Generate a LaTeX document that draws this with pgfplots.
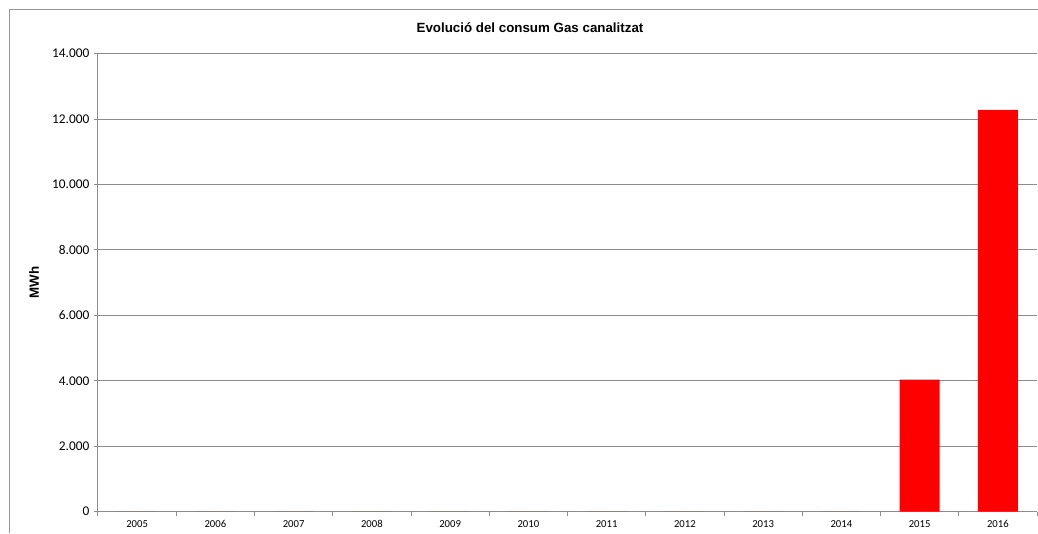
\documentclass[border=0pt]{standalone}
\usepackage{pgfplots}
\pgfplotsset{compat=1.18}
\usepackage{fontspec}
\setmainfont{Carlito}
\newfontfamily\arialfont{Liberation Sans}
\definecolor{gridgray}{RGB}{140,140,140}
\definecolor{framegray}{RGB}{150,150,150}
\definecolor{barred}{RGB}{255,0,0}
\begin{document}
\begin{tikzpicture}
  % 1 px of the 1038x533 picture = 0.75pt
  \useasboundingbox (0pt,0pt) rectangle (778.5pt,399.75pt);
  % chart area frame (only left and top edge are visible)
  \draw[framegray, line width=0.75pt] (7.1pt,0pt) -- (7.1pt,392.8pt) -- (778.5pt,392.8pt);
  \node[font=\arialfont\bfseries\fontsize{10}{12}\selectfont] at (397.5pt,378.75pt) {Evolució del consum Gas canalitzat};
  \begin{axis}[
      at={(73.5pt,16pt)},
      anchor=south west,
      scale only axis,
      width=704.25pt,
      height=343.5pt,
      ymin=0, ymax=14000,
      ytick={0,2000,...,14000},
      scaled y ticks=false,
      xmin=-0.5, xmax=11.5,
      xtick={-0.5,0.5,...,11.5},
      xticklabels={2005,2006,2007,2008,2009,2010,2011,2012,2013,2014,2015,2016},
      x tick label as interval,
      axis x line*=bottom,
      axis y line*=left,
      axis line style={gridgray, line width=0.75pt, -},
      ymajorgrids=true,
      grid style={gridgray, line width=0.75pt},
      tick align=outside,
      major tick length=3pt,
      tick style={gridgray, line width=0.75pt},
      /pgf/number format/.cd, fixed, precision=0, 1000 sep={.}, assume math mode=true,
      /pgfplots/.cd,
      y tick label style={font=\fontsize{10}{12}\selectfont},
      x tick label style={font=\fontsize{8}{10}\selectfont},
      ylabel={MWh},
      ylabel style={font=\arialfont\bfseries\fontsize{10}{12}\selectfont,
                    at={(axis description cs:-0.068,0.5)}, anchor=center},
      ybar,
      bar width=0.51,
    ]
    \addplot[fill=barred, draw=none] coordinates {
      (0,0) (1,0) (2,0) (3,0) (4,0) (5,0) (6,0) (7,0) (8,0) (9,0)
      (10,4040) (11,12280)
    };
  \end{axis}
\end{tikzpicture}
\end{document}
